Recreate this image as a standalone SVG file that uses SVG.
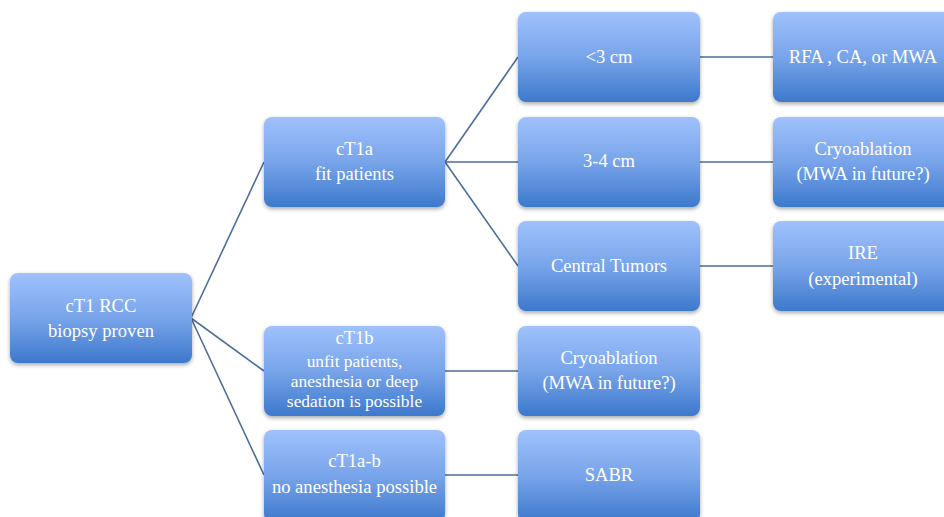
<svg xmlns="http://www.w3.org/2000/svg" width="944" height="517" viewBox="0 0 944 517">
<defs>
<linearGradient id="g" x1="0" y1="0" x2="0" y2="1">
<stop offset="0" stop-color="#9fc1fc"/>
<stop offset="0.5" stop-color="#78a4ea"/>
<stop offset="1" stop-color="#3d79cc"/>
</linearGradient>
<filter id="sh" x="-10%" y="-10%" width="120%" height="130%">
<feGaussianBlur in="SourceAlpha" stdDeviation="2"/>
<feOffset dx="0" dy="2" result="b"/>
<feComponentTransfer><feFuncA type="linear" slope="0.35"/></feComponentTransfer>
<feMerge><feMergeNode/><feMergeNode in="SourceGraphic"/></feMerge>
</filter>
</defs>
<style>
.box{fill:url(#g);filter:url(#sh)}
.t{font-family:"Liberation Serif","DejaVu Serif",serif;font-size:18.6px;fill:#ffffff;text-anchor:middle}
.s{font-size:17.4px}
.c{stroke:#4d6f9c;stroke-width:1.6;fill:none}
</style>
<rect width="944" height="517" fill="#ffffff"/>
<g id="connectors">
<path class="c" d="M191 318 L264 162 M191 318 L264 371 M191 318 L264 475"/>
<path class="c" d="M445 162 L518 57 M445 162 L518 162 M445 162 L518 266"/>
<path class="c" d="M445 371 L518 371 M445 475 L518 475"/>
<path class="c" d="M700 57 L773 57 M700 162 L773 162 M700 266 L773 266"/>
</g>
<g id="n-root"><rect class="box" x="10" y="273" width="182" height="90" rx="8"/>
<text class="t" x="101" y="312">cT1 RCC</text><text class="t" x="101" y="337">biopsy proven</text></g>
<g id="n-ct1a"><rect class="box" x="264" y="117" width="181" height="90" rx="8"/>
<text class="t" x="354.5" y="155">cT1a</text><text class="t" x="354.5" y="180">fit patients</text></g>
<g id="n-ct1b"><rect class="box" x="264" y="326" width="181" height="90" rx="8"/>
<text class="t" x="354.5" y="344">cT1b</text><text class="t s" x="354.5" y="367">unfit patients,</text><text class="t s" x="354.5" y="387">anesthesia or deep</text><text class="t s" x="354.5" y="407">sedation is possible</text></g>
<g id="n-ct1ab"><rect class="box" x="264" y="430" width="181" height="92" rx="8"/>
<text class="t" x="354.5" y="467">cT1a-b</text><text class="t" x="354.5" y="493">no anesthesia possible</text></g>
<g id="n-lt3"><rect class="box" x="518" y="12" width="182" height="90" rx="8"/>
<text class="t" x="609" y="63">&lt;3 cm</text></g>
<g id="n-34"><rect class="box" x="518" y="117" width="182" height="90" rx="8"/>
<text class="t" x="609" y="167">3-4 cm</text></g>
<g id="n-central"><rect class="box" x="518" y="221" width="182" height="90" rx="8"/>
<text class="t" x="609" y="272">Central Tumors</text></g>
<g id="n-cryo2"><rect class="box" x="518" y="326" width="182" height="90" rx="8"/>
<text class="t" x="609" y="364">Cryoablation</text><text class="t" x="609" y="389">(MWA in future?)</text></g>
<g id="n-sabr"><rect class="box" x="518" y="430" width="182" height="92" rx="8"/>
<text class="t" x="609" y="481">SABR</text></g>
<g id="n-rfa"><rect class="box" x="773" y="12" width="182" height="90" rx="8"/>
<text class="t" x="863" y="63">RFA , CA, or MWA</text></g>
<g id="n-cryo1"><rect class="box" x="773" y="117" width="182" height="90" rx="8"/>
<text class="t" x="863" y="155">Cryoablation</text><text class="t" x="863" y="180">(MWA in future?)</text></g>
<g id="n-ire"><rect class="box" x="773" y="221" width="182" height="90" rx="8"/>
<text class="t" x="863" y="259">IRE</text><text class="t" x="863" y="285">(experimental)</text></g>
</svg>
